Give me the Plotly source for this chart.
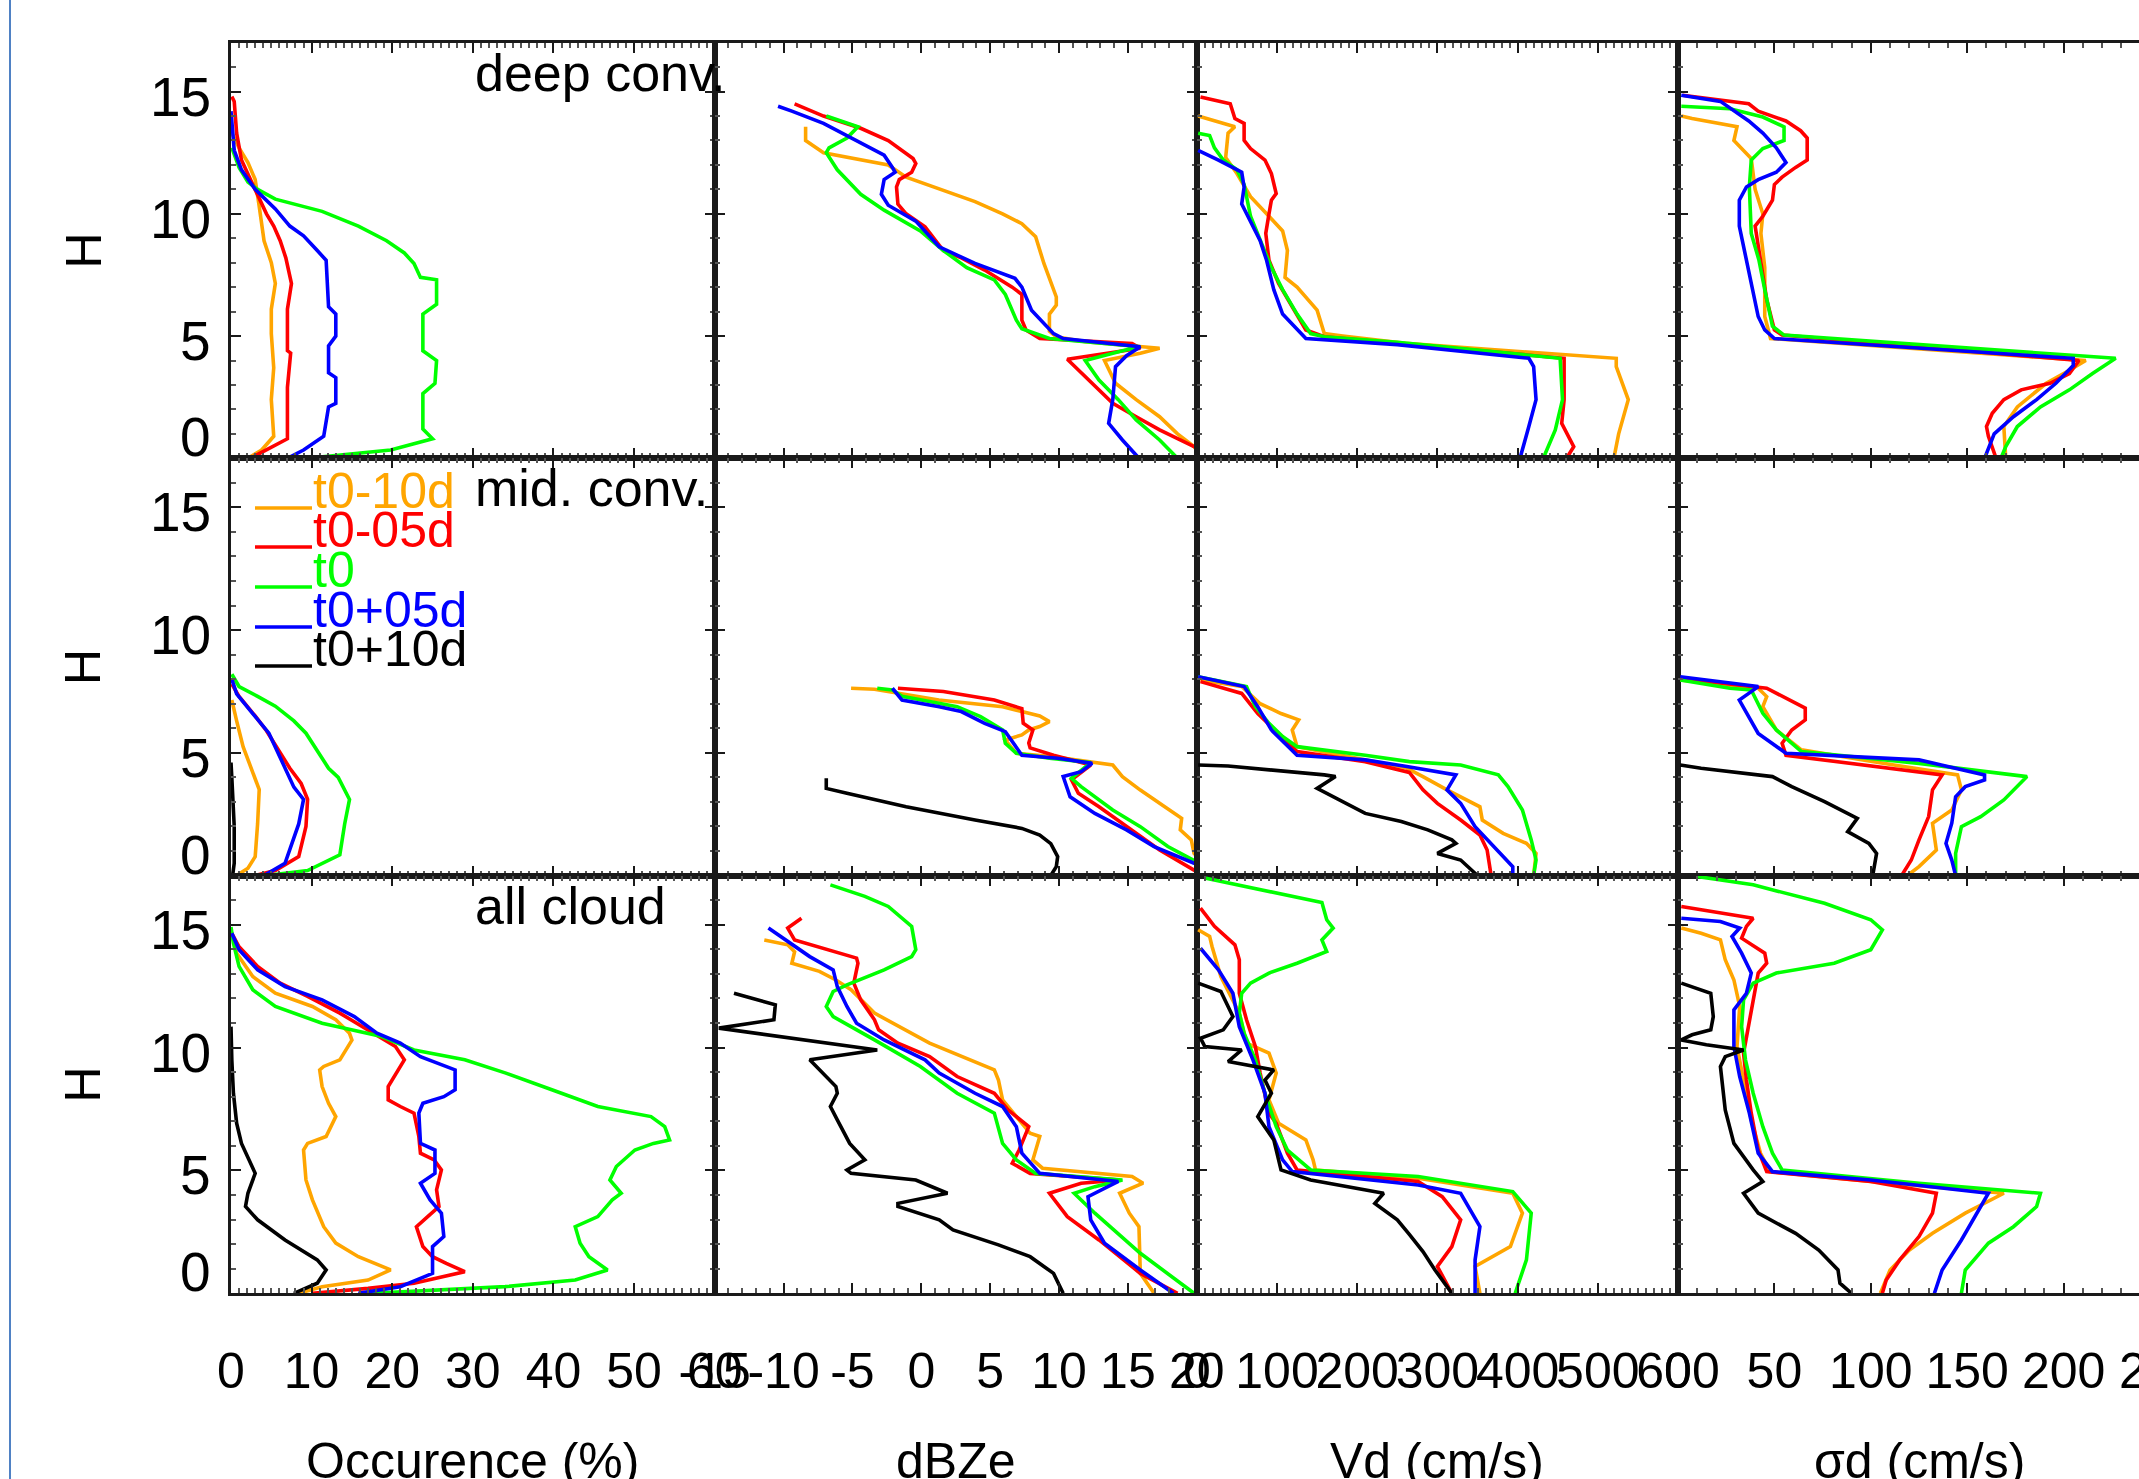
import plotly.graph_objects as go

W, H = 2139, 1479

# ---------------- data ----------------
SERIES = ["t0-10d", "t0-05d", "t0", "t0+05d", "t0+10d"]
COLORS = ["#FFA500", "#FF0000", "#00FF00", "#0000FF", "#000000"]
ROW_LABELS = ["deep conv.", "mid. conv.", "all cloud"]
X_TITLES = ["Occurence (%)", "dBZe", "Vd (cm/s)", "\u03c3d (cm/s)"]
Y_TITLE = "H"
Y_TICKS = [0, 5, 10, 15]
X_TICKS = [
    [0, 10, 20, 30, 40, 50, 60],
    [-15, -10, -5, 0, 5, 10, 15, 20],
    [0, 100, 200, 300, 400, 500, 600],
    [0, 50, 100, 150, 200, 250],
]
X_TICK_TEXT = [[str(v) for v in t] for t in X_TICKS]

# each series: list of (value, height km)
deep_occ = {
    "t0-10d": [(2.1,0),(3.8,0.34),(5.3,0.9),(5.0,2.4),(5.3,3.7),(5.0,5.1),(5.0,6.1),(5.5,7.15),(5.0,8.0),(4.1,8.9),(3.5,10.3),(3.0,11.4),(2.1,12.1),(1.0,12.7),(0.1,13.3)],
    "t0-05d": [(2.4,0),(4.7,0.4),(7.0,0.8),(7.0,2.9),(7.4,4.3),(7.0,4.4),(7.0,6.1),(7.5,7.15),(6.8,8.2),(6.1,8.9),(5.3,9.5),(4.4,10.0),(3.5,10.6),(2.7,11.2),(1.3,12.2),(0.7,13.3),(0.4,14.6),(0.1,14.8)],
    "t0": [(9.5,0),(19.8,0.34),(25,0.8),(23.8,1.2),(23.8,2.65),(25.3,3.07),(25.5,4.0),(23.8,4.4),(23.8,5.9),(25.5,6.3),(25.5,7.3),(23.5,7.4),(22.7,7.97),(21.5,8.4),(19.3,8.9),(15.8,9.5),(11.3,10.1),(5.5,10.6),(3.3,11.0),(2.1,11.3),(1.0,11.9),(0.1,12.7)],
    "t0+05d": [(7.0,0),(9.0,0.34),(11.5,0.9),(12.1,2.1),(13.0,2.25),(13.0,3.3),(12.1,3.5),(12.1,4.6),(13.0,5.0),(13.0,5.9),(12.1,6.2),(11.8,8.1),(10.7,8.5),(9.0,9.1),(7.3,9.5),(5.5,10.2),(3.0,11.0),(1.3,11.8),(0.4,12.6),(0.1,13.6),(0,14.2)],
}
deep_dbz = {
    "t0-10d": [(-8.4,13.56),(-8.4,13.0),(-7.1,12.5),(-6.1,12.4),(-2.4,12.0),(-1.1,11.5),(1.6,10.97),(3.9,10.5),(5.9,10.0),(7.3,9.6),(8.3,9.06),(8.9,7.97),(9.8,6.6),(9.8,6.27),(9.3,5.9),(9.3,5.2),(9.8,4.97),(11.9,4.77),(17.3,4.5),(15.9,4.3),(13.3,4.0),(14.1,3.07),(15.6,2.4),(17.3,1.7),(18.6,1.0),(19.8,0.48),(20.5,0)],
    "t0-05d": [(-9.2,14.5),(-7.1,14.0),(-4.4,13.5),(-2.4,13.0),(-0.6,12.26),(-0.4,12.06),(-0.7,11.7),(-1.6,11.4),(-1.8,11.1),(-1.7,10.4),(-1.1,10.0),(0.27,9.47),(1.6,8.5),(2.9,8.2),(4.6,7.7),(6.6,7.0),(7.3,6.7),(7.3,5.65),(7.6,5.25),(8.6,4.9),(15.3,4.7),(15.9,4.5),(10.6,4.05),(11.9,3.34),(13.9,2.25),(15.6,1.7),(17.3,1.16),(19.8,0.48),(21,0.2)],
    "t0": [(-6.9,14.0),(-4.6,13.56),(-5.4,13.1),(-6.7,12.7),(-6.9,12.5),(-6.1,11.8),(-4.4,10.8),(-2.7,10.15),(-0.07,9.3),(1.6,8.5),(3.3,7.8),(5.3,7.3),(6.1,6.7),(6.9,5.65),(7.3,5.3),(9.3,4.9),(15.9,4.56),(14.6,4.4),(11.9,4.0),(12.9,3.2),(14.3,2.4),(15.6,1.57),(17.3,0.75),(18.6,0)],
    "t0+05d": [(-10.4,14.4),(-9.4,14.2),(-7.1,13.7),(-5.1,13.1),(-2.7,12.4),(-2.1,11.9),(-1.9,11.7),(-2.7,11.4),(-2.9,10.8),(-2.4,10.35),(-0.4,9.7),(1.3,8.65),(3.9,7.97),(6.8,7.36),(7.3,7.0),(8.0,6.06),(9.6,5.1),(10.3,4.9),(15.9,4.56),(14.9,4.2),(14.1,3.75),(13.9,2.4),(13.6,1.43),(14.6,0.75),(15.8,0)],
}
deep_vd = {
    "t0-10d": [(1.7,14.0),(47.5,13.56),(39,13.3),(36,12.3),(50,11.65),(67,10.7),(90,9.9),(107,9.3),(113,8.5),(110,7.4),(125,7.0),(150,6.06),(159,5.1),(182,5.0),(260,4.7),(523,4.09),(523,3.75),(538,2.4),(526,1.0),(520,0)],
    "t0-05d": [(4.6,14.78),(41.7,14.5),(47.5,13.9),(59,13.7),(59,13.0),(67,12.67),(85,12.2),(93,11.65),(99,10.83),(93,10.56),(90,10.0),(86,9.2),(90,8.1),(102,7.15),(119,6.2),(136,5.25),(159,4.97),(250,4.7),(458,4.09),(458,2.4),(455,1.43),(470,0.48),(461,0)],
    "t0": [(1.7,13.3),(16,13.2),(22,12.7),(33,12.2),(50,11.8),(59,11.2),(67,9.9),(79,8.9),(93,7.8),(107,6.9),(125,5.9),(142,5.1),(159,4.97),(250,4.75),(453,4.09),(456,2.4),(447,1.16),(432,0)],
    "t0+05d": [(1.7,12.6),(27,12.2),(56,11.7),(59,11.1),(56,10.4),(67,9.7),(79,8.9),(87,8.1),(96,6.9),(107,5.9),(125,5.25),(136,4.9),(250,4.65),(414,4.09),(420,3.75),(423,2.4),(414,1.3),(403,0)],
}
deep_sig = {
    "t0-10d": [(1.7,14.0),(7.3,13.9),(30.6,13.56),(29,13.0),(38,12.26),(40,11.0),(44,10.0),(43,9.2),(45,7.8),(45,5.8),(48,4.9),(211.5,4.0),(203,3.6),(191,3.07),(176,2.1),(169,1.3),(170,0)],
    "t0-05d": [(2.4,14.85),(26.9,14.6),(36.7,14.5),(41.6,14.2),(56,13.8),(63.6,13.4),(67,13.1),(67,12.2),(61,11.9),(54,11.5),(50,11.2),(49,10.56),(44,9.9),(40,9.5),(42,8.5),(44,7.4),(46,6.5),(50,5.25),(54,5.04),(208,4.0),(203,3.47),(193,3.07),(178,2.8),(169,2.4),(163,1.84),(160,1.3),(161,0.9),(165,0)],
    "t0": [(1.7,14.4),(27,14.3),(44,13.96),(55,13.56),(55,13.0),(44,12.67),(38,12.2),(37,11.1),(38,9.2),(42,8.1),(45,6.9),(49,5.4),(55,5.04),(227,4.09),(215,3.47),(203,2.8),(188,2.1),(176,1.3),(170,0.48),(167.5,0)],
    "t0+05d": [(1.7,14.85),(22,14.6),(36.7,13.8),(44,13.3),(51,12.7),(56,12.1),(51,11.7),(41.6,11.4),(35.5,11.1),(31.8,10.56),(31.8,9.5),(35.5,8.1),(39,6.7),(41.6,5.8),(45,5.25),(50,4.9),(205,4.09),(205,3.8),(196,3.07),(186,2.4),(174,1.7),(164,1.0),(159,0)],
}

mid_occ = {
    "t0-10d": [(0.7,0),(2.1,0.3),(3.0,0.77),(3.3,2.1),(3.5,3.5),(2.7,4.2),(1.5,5.25),(0.7,6.3),(0.1,7.15)],
    "t0-05d": [(3.0,0),(5.5,0.2),(8.4,0.77),(9.3,2.0),(9.5,3.1),(8.7,3.75),(7.3,4.37),(6.1,5.0),(4.4,5.9),(3.0,6.5),(1.0,7.3),(0.1,7.8)],
    "t0": [(4.4,0),(9.5,0.2),(13.5,0.84),(14.1,2.1),(14.7,3.1),(13.3,4.0),(12.1,4.37),(10.7,5.1),(9.3,5.8),(7.8,6.3),(5.5,6.9),(3.3,7.3),(1.0,7.7),(0.1,8.2)],
    "t0+05d": [(4.1,0),(6.7,0.5),(8.4,2.1),(9.0,3.1),(7.8,3.6),(6.4,4.6),(4.7,5.8),(2.7,6.6),(0.7,7.4),(0.1,8.0)],
    "t0+10d": [(0.2,0),(0.4,0.5),(0.4,2.0),(0.3,3.0),(0.1,4.0),(0,4.6)],
}
mid_dbz = {
    "t0-10d": [(-5.1,7.63),(-3.4,7.59),(1.27,7.15),(5.9,6.88),(7.3,6.68),(8.6,6.5),(9.3,6.27),(8.6,6.07),(7.8,5.93),(7.3,5.73),(6.1,5.52),(6.9,4.98),(9.6,4.84),(12.6,4.6),(13.9,4.5),(14.6,4.03),(15.9,3.48),(17.3,2.94),(18.9,2.33),(18.8,1.86),(19.6,1.45),(19.8,0.9),(20.5,0.5)],
    "t0-05d": [(-1.7,7.63),(1.6,7.5),(5.3,7.15),(7.3,6.8),(7.4,6.2),(8.1,5.93),(7.8,5.4),(7.9,5.2),(9.6,4.9),(12.3,4.5),(10.9,3.9),(11.4,3.35),(12.9,2.8),(15.3,1.86),(17.3,1.04),(19.8,0.22),(20.5,0)],
    "t0": [(-3.2,7.63),(-2.1,7.56),(-1.4,7.3),(2.6,6.88),(4.3,6.47),(5.9,5.93),(6.1,5.39),(6.9,4.98),(9.3,4.78),(12.3,4.6),(10.9,3.96),(11.6,3.62),(13.9,2.67),(15.9,1.99),(17.9,1.18),(19.8,0.63),(20.5,0.4)],
    "t0+05d": [(-2.1,7.63),(-1.4,7.15),(1.3,6.88),(2.9,6.68),(4.6,6.2),(6.1,5.86),(7.3,4.9),(9.9,4.78),(12.4,4.57),(11.6,4.23),(10.3,4.03),(10.8,3.21),(12.6,2.53),(14.9,1.86),(16.9,1.18),(18.6,0.77),(19.8,0.5),(20.5,0.4)],
    "t0+10d": [(-6.9,3.96),(-6.9,3.55),(-5.4,3.35),(-1.1,2.8),(3.9,2.26),(7.3,1.92),(8.6,1.65),(9.4,1.3),(9.9,0.77),(9.8,0.36),(9.4,0)],
}
mid_vd = {
    "t0-10d": [(4.6,7.97),(56,7.7),(79,7.0),(105,6.6),(127,6.34),(119,5.93),(125,5.25),(182,4.9),(260,4.4),(282,4.03),(312,3.49),(353,2.8),(356,2.26),(382,1.72),(411,1.31),(423,0.9),(420,0)],
    "t0-05d": [(4.6,7.9),(56,7.42),(76,6.6),(102,5.79),(125,5.05),(210,4.64),(265,4.2),(282,3.49),(300,2.94),(329,2.26),(353,1.65),(362,1.04),(367,0)],
    "t0": [(1.7,8.1),(62,7.7),(73,6.88),(90,6.2),(107,5.66),(125,5.25),(210,4.9),(265,4.64),(329,4.5),(376,4.1),(388,3.62),(406,2.67),(417,1.45),(423,0.63),(420,0)],
    "t0+05d": [(1.7,8.1),(59,7.7),(76,6.88),(93,5.93),(125,4.9),(210,4.71),(260,4.45),(323,4.1),(312,3.49),(329,2.94),(347,1.99),(370,1.18),(394,0.36),(394,0)],
    "t0+10d": [(1.7,4.5),(39,4.46),(159,4.1),(173,4.03),(150,3.55),(193,2.8),(210,2.53),(255,2.2),(276,1.99),(288,1.86),(318,1.45),(323,1.31),(300,0.9),(329,0.63),(350,0)],
}
mid_sig = {
    "t0-10d": [(1.2,7.97),(41.6,7.63),(46,7.29),(44,6.88),(51,5.93),(64,5.12),(112,4.5),(145,4.1),(147,3.49),(142,2.67),(132,2.13),(134,1.04),(125,0.36),(119,0)],
    "t0-05d": [(1.2,8.03),(46,7.63),(66,6.82),(66,6.34),(59,5.93),(54,5.39),(56,4.9),(88,4.57),(137,4.1),(132,3.49),(130,2.4),(125,1.45),(121,0.63),(116,0)],
    "t0": [(1.2,7.97),(27,7.63),(38,7.56),(44,6.61),(51,5.93),(64,5.05),(125,4.57),(181,4.03),(169,3.08),(157,2.4),(147,1.99),(144,0.9),(144,0)],
    "t0+05d": [(1.2,8.1),(41.6,7.7),(36.7,7.42),(31.8,7.15),(41.6,5.79),(56,4.98),(125,4.71),(159,4.1),(159,3.89),(149,3.62),(144,3.21),(142,2.13),(139,1.31),(142,0.63),(144,0)],
    "t0+10d": [(1.2,4.5),(12,4.37),(49,4.03),(59,3.62),(76,3.01),(93,2.33),(88,1.79),(99,1.31),(103,0.9),(101,0)],
}

all_occ = {
    "t0-10d": [(8.4,0),(11.3,0.27),(17,0.54),(19.8,0.95),(15.8,1.49),(13,2.04),(11.5,2.71),(10.1,3.8),(9.3,4.61),(9.0,5.83),(9.5,6.1),(11.8,6.38),(13.0,7.19),(12.1,7.73),(11.3,8.41),(11.0,9.09),(11.5,9.23),(13.5,9.5),(15,10.3),(14.7,10.58),(13,11.13),(10.1,11.67),(5.5,12.21),(2.7,12.89),(0.7,13.84),(0.1,14.65)],
    "t0-05d": [(10.1,0),(17,0.2),(22.7,0.41),(29,0.88),(26.7,1.22),(25,1.49),(23.8,1.9),(23,2.71),(24.4,3.12),(25.8,3.53),(25.5,4.21),(26.1,5.02),(25.2,5.43),(23.5,5.7),(23.3,6.38),(22.7,7.33),(21,7.6),(19.5,7.87),(19.5,8.41),(21,9.23),(21.5,9.5),(20.4,10.04),(17,10.72),(13.5,11.4),(9.5,12.08),(6.1,12.62),(3.3,13.3),(1.0,14.1),(0.1,14.65)],
    "t0": [(17.5,0),(34,0.27),(42.7,0.54),(46.7,0.95),(44.4,1.49),(43.3,2.04),(42.7,2.71),(45.5,3.12),(47.3,3.8),(48.4,4.07),(47,4.61),(47.8,5.16),(50.1,5.83),(52.4,6.1),(54.4,6.24),(53.8,6.78),(52.1,7.19),(45.5,7.6),(39.8,8.28),(34.1,8.96),(29,9.5),(22.7,9.9),(18.7,10.45),(11.3,10.99),(5.5,11.67),(2.7,12.35),(1.0,13.3),(0.3,14.25),(0,14.9)],
    "t0+05d": [(15.8,0),(21,0.27),(25,0.81),(25,1.9),(26.4,2.31),(26.1,3.26),(24.7,3.8),(23.5,4.48),(25.3,4.88),(25.3,5.83),(23.5,6.1),(23.3,7.33),(23.8,7.73),(26.4,8.0),(27.8,8.28),(27.8,9.09),(23.5,9.63),(21,10.18),(18.1,10.58),(15.3,11.26),(11.3,11.94),(6.7,12.48),(3.3,13.16),(1.0,13.98),(0.1,14.65)],
    "t0+10d": [(7.8,0),(10.7,0.41),(11.8,0.95),(10.7,1.36),(6.7,2.17),(3.3,2.99),(1.8,3.53),(2.1,4.07),(3.0,4.88),(2.1,5.56),(1.3,6.1),(0.7,6.92),(0.3,8.14),(0.1,9.5),(0,10.85)],
}
all_dbz = {
    "t0-10d": [(16.9,0),(15.9,0.81),(15.8,2.71),(15.1,3.26),(14.4,4.07),(16.1,4.48),(15.3,4.75),(8.8,5.09),(8.1,5.43),(8.6,6.38),(7.9,6.51),(5.9,7.87),(5.6,8.68),(5.3,9.09),(0.6,10.18),(-3.4,11.4),(-5.1,12.35),(-6.2,12.75),(-7.4,13.1),(-9.4,13.43),(-9.2,13.9),(-9.7,14.18),(-11.4,14.38)],
    "t0-05d": [(18.6,0),(15.9,0.81),(12.9,2.17),(10.6,3.12),(9.3,4.07),(11.6,4.48),(14.4,4.61),(7.9,4.88),(6.6,5.29),(7.1,5.83),(7.8,6.78),(6.3,7.46),(5.3,8.14),(2.6,8.82),(0.6,9.63),(-1.7,10.18),(-3.1,10.72),(-3.4,11.13),(-4.4,11.94),(-4.9,12.62),(-4.6,13.43),(-4.7,13.64),(-9.2,14.38),(-9.7,14.86),(-8.7,15.26)],
    "t0": [(19.8,0),(17.9,0.81),(15.9,1.63),(12.6,3.26),(11.3,3.93),(11.1,4.07),(12.6,4.34),(14.6,4.61),(8.3,4.88),(6.9,5.43),(5.9,6.1),(5.3,7.33),(2.6,8.14),(-0.07,9.23),(-3.4,10.31),(-5.1,10.85),(-6.4,11.26),(-6.9,11.67),(-6.4,12.28),(-5.4,12.55),(-2.7,13.16),(-0.7,13.7),(-0.4,13.98),(-0.7,14.93),(-2.4,15.74),(-4.1,16.15),(-6.6,16.62)],
    "t0+05d": [(18.3,0),(15.9,0.95),(13.3,2.04),(12.3,2.99),(12.1,3.93),(13.3,4.27),(14.3,4.55),(8.6,4.88),(7.3,5.7),(6.9,6.78),(5.9,7.6),(3.9,8.14),(1.3,8.96),(0.27,9.5),(-2.7,10.31),(-4.7,10.99),(-5.4,11.67),(-6.1,12.48),(-6.4,13.16),(-8.1,13.7),(-11.1,14.86)],
    "t0+10d": [(10.3,0),(9.6,0.81),(7.9,1.49),(5.6,1.97),(2.3,2.58),(1.3,2.99),(-1.7,3.53),(-1.7,3.66),(1.9,4.07),(-0.4,4.61),(-5.1,4.88),(-5.4,5.02),(-4.1,5.43),(-5.2,6.1),(-6.1,7.06),(-6.6,7.6),(-6.1,8.14),(-6.2,8.41),(-8.1,9.5),(-3.2,9.9),(-14.7,10.79),(-10.7,11.13),(-10.6,11.74),(-13.6,12.21)],
}
all_vd = {
    "t0-10d": [(1.7,14.79),(16,14.52),(19,14.11),(30,12.89),(53,11.4),(62,10.18),(90,9.77),(99,8.96),(90,7.87),(102,6.92),(136,6.24),(145,5.43),(148,5.02),(276,4.68),(394,4.07),(406,3.26),(391,1.9),(347,1.09),(353,0)],
    "t0-05d": [(4.6,15.67),(22,14.93),(47.5,14.18),(53,13.57),(53,12.21),(62,11.13),(73,10.04),(79,8.96),(90,7.33),(99,6.92),(113,5.7),(125,5.02),(276,4.55),(306,3.93),(329,2.99),(318,1.9),(300,1.09),(318,0)],
    "t0": [(10,16.9),(85,16.4),(156,15.9),(162,15.2),(170,14.86),(156,14.38),(162,13.91),(125,13.43),(90,13.03),(67,12.62),(56,12.21),(53,11.4),(59,10.58),(73,9.5),(85,8.14),(99,6.78),(113,5.83),(142,5.02),(276,4.75),(394,4.14),(417,3.26),(411,1.36),(397,0)],
    "t0+05d": [(4.6,14.04),(27,13.16),(45,12.21),(53,10.85),(70,9.5),(85,8.14),(90,6.78),(107,5.43),(119,4.95),(276,4.41),(329,4.07),(353,2.71),(347,1.36),(347,0)],
    "t0+10d": [(1.7,12.62),(30,12.28),(45,11.26),(33,10.72),(4.6,10.38),(10,10.04),(56,9.9),(39,9.43),(96,9.09),(85,8.68),(93,8.14),(76,7.19),(96,6.24),(105,5.02),(142,4.61),(233,4.07),(222,3.66),(250,2.99),(265,2.4),(282,1.7),(297,0.95),(318,0)],
}
all_sig = {
    "t0-10d": [(1.7,14.86),(12,14.65),(22,14.38),(24.5,13.57),(29,12.75),(32,11.67),(30.6,10.04),(34,8.68),(38,7.06),(42.8,5.7),(47.7,4.95),(100,4.55),(169,4.07),(149,3.26),(132,2.44),(120,1.76),(110,0.95),(105,0)],
    "t0-05d": [(1.7,15.74),(22,15.47),(39,15.26),(35.5,14.93),(33,14.45),(45,13.84),(46,13.43),(41.6,13.03),(39,11.94),(36.7,10.85),(34,9.77),(35.5,8.68),(38,7.33),(41.6,5.83),(46,4.95),(100,4.55),(134,4.07),(132,3.26),(125,2.31),(115,1.36),(108,0.54),(106,0)],
    "t0": [(9.8,16.96),(39,16.62),(76,15.87),(100,15.2),(106,14.79),(100,13.98),(81,13.43),(51,13.03),(39,12.62),(34,11.94),(33,10.85),(35,9.5),(39,8.14),(44,6.78),(49,5.7),(54,5.02),(125,4.48),(188,4.07),(186,3.53),(174,2.71),(161,2.04),(149,0.95),(147,0)],
    "t0+05d": [(1.7,15.26),(22,15.13),(32,14.86),(28,14.52),(33,13.84),(38,13.03),(35.5,12.21),(29,11.53),(29,10.04),(32,8.82),(37,7.33),(41.6,5.7),(49,4.95),(100,4.61),(161,4.07),(157,3.53),(147,2.17),(137,0.95),(133,0)],
    "t0+10d": [(1.7,12.62),(17,12.21),(18.3,11.26),(17,10.72),(7.3,10.52),(1.7,10.31),(14.7,10.11),(34,9.9),(24.5,9.63),(22,9.23),(24.5,7.46),(29,6.1),(39,5.02),(44,4.55),(34,4.07),(41.6,3.26),(61,2.44),(73,1.76),(83,0.95),(84,0.41),(90,0)],
}

PANELS = [
    [deep_occ, deep_dbz, deep_vd, deep_sig],
    [mid_occ, mid_dbz, mid_vd, mid_sig],
    [all_occ, all_dbz, all_vd, all_sig],
]

# ---------------- layout geometry (pixels) ----------------
COL_X = [231, 714.7, 1196.8, 1678, 2160]      # panel edges (last panel runs past the window)
ROW_Y = [42.7, 458.3, 875.5, 1293.3]
X_RANGE = [(0, 60), (-15, 20), (0, 600), (0, 250)]
X_MINOR = [1, 1, 10, 10]
FONT = "Liberation Sans, Arial, Helvetica, sans-serif"
FS = 50
FS_YT = 55
FS_LAB = 52
AXC = "#1a1a1a"

def px(x):
    return x / W

def py(y):
    return 1 - y / H

fig = go.Figure()
layout = {}
annotations = []
for r in range(3):
    for c in range(4):
        i = r * 4 + c + 1
        xn = "x" if i == 1 else f"x{i}"
        yn = "y" if i == 1 else f"y{i}"
        data = PANELS[r][c]
        for s, col in zip(SERIES, COLORS):
            if s not in data:
                continue
            pts = data[s]
            fig.add_trace(go.Scatter(
                x=[p[0] for p in pts], y=[p[1] for p in pts],
                mode="lines", line=dict(color=col, width=3.6),
                xaxis=xn, yaxis=yn, name=s, showlegend=False,
                hoverinfo="skip"))
        x0, x1 = COL_X[c], COL_X[c + 1]
        lo, hi = X_RANGE[c]
        if x1 > W:
            hi = lo + (hi - lo) * (W - x0) / (x1 - x0)
            x1 = W
        xa = dict(
            domain=[px(x0), px(x1)], anchor=yn, range=[lo, hi], automargin=False,
            showline=True, linecolor=AXC, linewidth=3, mirror="ticks",
            ticks="inside", ticklen=10, tickwidth=2, tickcolor=AXC,
            tickmode="array", tickvals=X_TICKS[c], ticktext=X_TICK_TEXT[c], tickangle=0,
            minor=dict(ticks="inside", ticklen=5, tickwidth=1.5, tickcolor="#555", dtick=X_MINOR[c], tick0=0),
            showgrid=False, zeroline=False,
            showticklabels=(r == 2),
            tickfont=dict(family=FONT, size=FS, color="black"),
            ticklabelstandoff=32,
        )
        ya = dict(
            domain=[py(ROW_Y[r + 1]), py(ROW_Y[r])], anchor=xn, range=[0, 17], automargin=False,
            showline=True, linecolor=AXC, linewidth=3,
            mirror=("ticks" if c < 3 else False),
            ticks="inside", ticklen=10, tickwidth=2, tickcolor=AXC,
            tickmode="array", tickvals=Y_TICKS,
            minor=dict(ticks="inside", ticklen=5, tickwidth=1.5, tickcolor="#555", dtick=1, tick0=0),
            showgrid=False, zeroline=False,
            showticklabels=False,
        )
        layout["xaxis" if i == 1 else f"xaxis{i}"] = xa
        layout["yaxis" if i == 1 else f"yaxis{i}"] = ya
        # y tick labels of the first column (the bottom "0" sits raised above the axis)
        if c == 0:
            for v in Y_TICKS:
                annotations.append(dict(
                    text=str(v), xref="paper", yref=yn, x=px(213), y=v,
                    xanchor="right", yanchor="middle", showarrow=False,
                    yshift=(21 if v == 0 else -5),
                    font=dict(family=FONT, size=FS_YT, color="black")))

# partially visible last tick label of the sigma panel (cut by the window edge)
annotations.append(dict(text="250", xref="paper", yref="paper", x=px(2160), y=py(1371),
                        xanchor="center", yanchor="middle", showarrow=False,
                        font=dict(family=FONT, size=FS, color="black")))

# row category labels and y titles
for r, lab in enumerate(ROW_LABELS):
    annotations.append(dict(text=lab, xref="paper", yref="paper", x=px(473), y=py(ROW_Y[r] - 1),
                            xanchor="left", yanchor="top", showarrow=False,
                            font=dict(family=FONT, size=FS_LAB, color="black")))
    annotations.append(dict(text=Y_TITLE, xref="paper", yref="paper", x=px(83),
                            y=py((ROW_Y[r] + ROW_Y[r + 1]) / 2), textangle=-90,
                            xanchor="center", yanchor="middle", showarrow=False,
                            font=dict(family=FONT, size=FS, color="black")))
# x axis titles
for c, t in enumerate(X_TITLES):
    annotations.append(dict(text=t, xref="paper", yref="paper", x=px((COL_X[c] + COL_X[c + 1]) / 2),
                            y=py(1431), xanchor="center", yanchor="top", showarrow=False,
                            font=dict(family=FONT, size=FS, color="black")))

# legend (in the mid. conv. occurrence panel)
shapes = []
LEG_Y = [508, 547, 587, 627, 666]
for s, col, ly in zip(SERIES, COLORS, LEG_Y):
    shapes.append(dict(type="line", xref="paper", yref="paper", x0=px(255), x1=px(312),
                       y0=py(ly), y1=py(ly), line=dict(color=col, width=3.6)))
    annotations.append(dict(text=s, xref="paper", yref="paper", x=px(311), y=py(ly - 47),
                            xanchor="left", yanchor="top", showarrow=False,
                            font=dict(family=FONT, size=FS, color=col)))
# thin frame line at the far left
shapes.append(dict(type="line", xref="paper", yref="paper", x0=px(10), x1=px(10), y0=0, y1=1,
                   line=dict(color="#4f81c4", width=2)))

fig.update_layout(**layout)
fig.update_layout(
    template="none",
    width=W, height=H, margin=dict(l=0, r=0, t=0, b=0, autoexpand=False),
    paper_bgcolor="white", plot_bgcolor="white", showlegend=False,
    annotations=annotations, shapes=shapes,
    font=dict(family=FONT, size=FS, color="black"),
)
fig.write_html("out.html")
